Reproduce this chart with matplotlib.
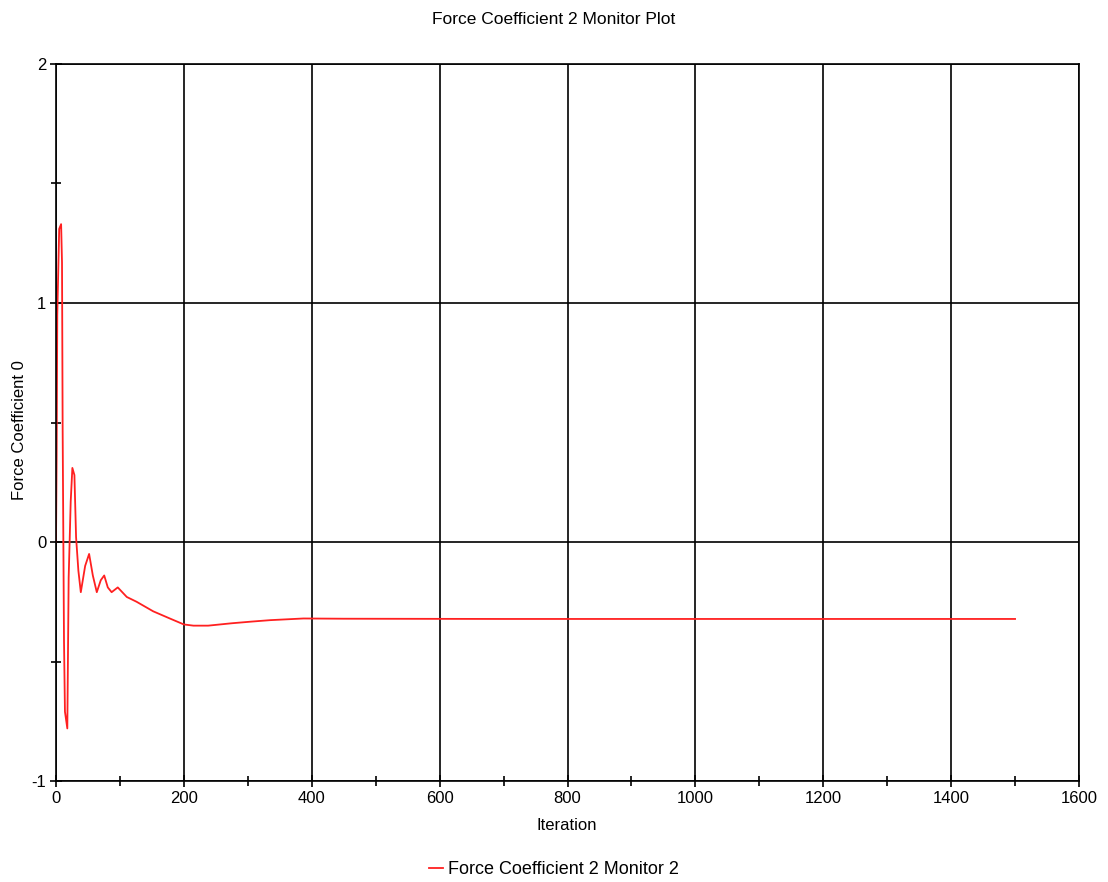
import matplotlib.pyplot as plt
from matplotlib.ticker import MultipleLocator

# data
iteration = [0, 1, 2, 5, 8, 9.4, 10.4, 12.5, 14, 17.7, 19.8, 23, 25.6, 28.8, 31.4, 35,
             38.8, 45.6, 51.8, 57.6, 63.8, 70, 75.4, 81, 87, 96.6, 110.7, 126, 152,
             178, 200, 215, 238, 275, 306, 335, 387, 450, 700, 1000, 1250, 1500]
coef = [0.0, 0.36, 0.95, 1.31, 1.33, 1.17, 0.47, -0.41, -0.71, -0.78, -0.15, 0.17, 0.31,
        0.28, 0.02, -0.12, -0.21, -0.10, -0.05, -0.14, -0.21, -0.16, -0.14, -0.19, -0.21,
        -0.19, -0.23, -0.25, -0.29, -0.32, -0.345, -0.35, -0.35, -0.34, -0.333, -0.327,
        -0.32, -0.321, -0.322, -0.322, -0.322, -0.322]

plt.rcParams['font.family'] = ['Liberation Sans', 'DejaVu Sans']
plt.rcParams['font.size'] = 12
plt.rcParams['axes.unicode_minus'] = False

fig = plt.figure(figsize=(11.08, 8.82), dpi=100)
ax = fig.add_axes([56 / 1108, 1 - 781 / 882, 1023 / 1108, 717 / 882])

ax.plot(iteration, coef, color="#ff2020", linewidth=1.3, label="Force Coefficient 2 Monitor 2")

ax.set_xlim(0, 1600)
ax.set_ylim(-1, 2)
ax.xaxis.set_major_locator(MultipleLocator(200))
ax.xaxis.set_minor_locator(MultipleLocator(100))
ax.yaxis.set_major_locator(MultipleLocator(1))
ax.yaxis.set_minor_locator(MultipleLocator(0.5))
ax.grid(True, which="major", color="black", linewidth=1.2)
ax.tick_params(which="both", direction="inout", color="black", width=1.2, top=False, right=False)
ax.tick_params(which="major", length=8, pad=3)
ax.tick_params(which="minor", length=7)
for s in ax.spines.values():
    s.set_color("black")
    s.set_linewidth(1.2)

fig.text(554 / 1108, 1 - 19 / 882, "Force Coefficient 2 Monitor Plot", ha="center", va="center", fontsize=12.5)
fig.text(567 / 1108, 1 - 825 / 882, "Iteration", ha="center", va="center")
fig.text(20 / 1108, 1 - 430 / 882, "Force Coefficient 0", ha="center", va="center", rotation=90)

ax.legend(loc="center", bbox_to_anchor=((554 - 56) / 1023, (781 - 870) / 717), frameon=False,
          handlelength=0.8, handletextpad=0.3, borderaxespad=0, fontsize=13)

plt.savefig("out.png")
